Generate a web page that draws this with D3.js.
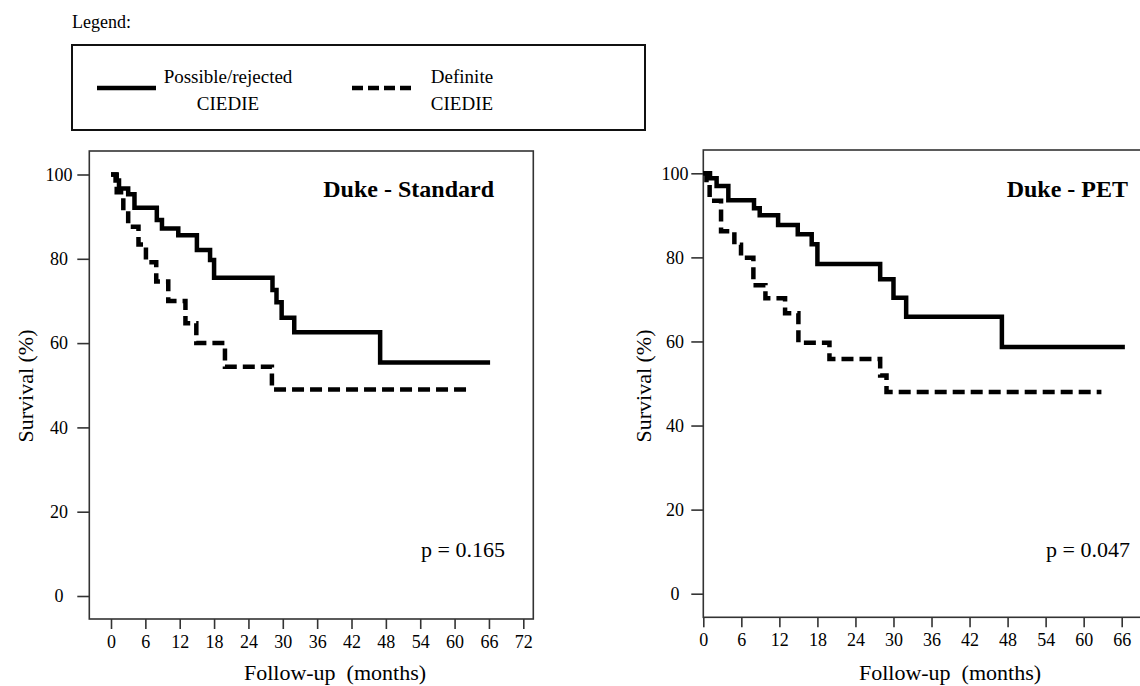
<!DOCTYPE html>
<html>
<head>
<meta charset="utf-8">
<script src="https://cdn.jsdelivr.net/npm/d3@7"></script>
<style>
  body { margin: 0; background: #fff; }
  text { font-family: "Liberation Serif", "Times New Roman", serif; fill: #000; }
</style>
</head>
<body>
<div id="datavis"></div>
<script>
// data (months, survival %)
let stdPossibleTime = [0, 0.8, 1.4, 3.0, 4.1, 8.0, 8.9, 11.75, 15.0, 17.3, 18.0, 28.2, 28.9, 29.8, 32.0, 47.0, 66.2]
let stdPossibleSurv = [100, 98.6, 96.7, 95.3, 92.1, 89.2, 87.2, 85.6, 82.1, 79.7, 75.5, 72.6, 69.7, 66.0, 62.6, 55.4, 55.4]
let stdDefiniteTime = [0, 1.0, 2.15, 3.0, 4.8, 6.1, 7.9, 10.0, 13.0, 14.9, 19.9, 28.1, 63.0]
let stdDefiniteSurv = [100, 95.8, 91.3, 87.6, 83.4, 79.2, 74.6, 70.0, 64.7, 60.0, 54.4, 49.0, 49.0]

let petPossibleTime = [0, 1.06, 2.1, 3.95, 8.0, 8.9, 11.8, 14.9, 17.1, 18.0, 27.9, 30.0, 32.0, 47.1, 66.5]
let petPossibleSurv = [100, 98.8, 97.0, 93.6, 91.7, 90.0, 87.7, 85.5, 83.1, 78.4, 74.8, 70.4, 65.9, 58.7, 58.7]
let petDefiniteTime = [0, 0.5, 1.0, 2.8, 4.9, 5.95, 7.9, 9.8, 12.9, 15.0, 19.9, 27.9, 28.9, 62.8]
let petDefiniteSurv = [100, 97.5, 93.5, 86.2, 83.0, 79.9, 73.4, 70.3, 66.7, 59.7, 55.8, 51.9, 48.0, 48.0]

let yTicks = [0, 20, 40, 60, 80, 100]
let xTicksStd = [0, 6, 12, 18, 24, 30, 36, 42, 48, 54, 60, 66, 72]
let xTicksPet = [0, 6, 12, 18, 24, 30, 36, 42, 48, 54, 60, 66]

let seriesLabels = [["Possible/rejected", "CIEDIE"], ["Definite", "CIEDIE"]]

let width = 1140,
    height = 686

let svg = d3.select('#datavis')
  .append('svg')
    .attr('width', width)
    .attr('height', height)

// legend
svg.append('text')
  .attr('x', 72).attr('y', 28)
  .style('font-size', '18px')
  .text('Legend:')

svg.append('rect')
  .attr('x', 72).attr('y', 45)
  .attr('width', 573).attr('height', 85)
  .attr('fill', 'none')
  .attr('stroke', '#111')
  .attr('stroke-width', 2)

let legendItems = [
  {x1: 97, x2: 156, tx: 228, dash: null, lab: seriesLabels[0]},
  {x1: 352, x2: 411, tx: 462, dash: '11,5', lab: seriesLabels[1]}
]
legendItems.forEach(function(d) {
  svg.append('line')
    .attr('x1', d.x1).attr('x2', d.x2)
    .attr('y1', 88).attr('y2', 88)
    .attr('stroke', '#000')
    .attr('stroke-width', 4.5)
    .attr('stroke-dasharray', d.dash)
  svg.append('text')
    .attr('x', d.tx).attr('y', 83)
    .attr('text-anchor', 'middle')
    .style('font-size', '19px')
    .text(d.lab[0])
  svg.append('text')
    .attr('x', d.tx).attr('y', 110)
    .attr('text-anchor', 'middle')
    .style('font-size', '19px')
    .text(d.lab[1])
})

function drawPanel(p) {
  let x = d3.scaleLinear().domain([0, p.xMax]).range(p.xRange)
  let y = d3.scaleLinear().domain([0, 100]).range(p.yRange)

  let g = svg.append('g')

  // frame
  g.append('rect')
    .attr('x', p.frame[0]).attr('y', p.frame[1])
    .attr('width', p.frame[2] - p.frame[0])
    .attr('height', p.frame[3] - p.frame[1])
    .attr('fill', 'none')
    .attr('stroke', '#333')
    .attr('stroke-width', 1.6)

  // y axis
  let ya = g.append('g')
    .attr('transform', `translate(${p.frame[0]},0)`)
    .call(d3.axisLeft(y).tickValues(yTicks).tickSize(12).tickSizeOuter(0))
  ya.select('.domain').remove()
  ya.selectAll('line').attr('stroke', '#333').attr('stroke-width', 1.6)
  ya.selectAll('text')
    .attr('x', p.yLabelX - p.frame[0])
    .attr('text-anchor', 'middle')
    .style('font-family', '"Liberation Serif", serif')
    .style('font-size', '18px')

  // x axis
  let xa = g.append('g')
    .attr('transform', `translate(0,${p.frame[3]})`)
    .call(d3.axisBottom(x).tickValues(p.xTicks).tickSize(10).tickPadding(6).tickSizeOuter(0))
  xa.select('.domain').remove()
  xa.selectAll('line').attr('stroke', '#333').attr('stroke-width', 1.6)
  xa.selectAll('text')
    .style('font-family', '"Liberation Serif", serif')
    .style('font-size', '18px')

  // axis titles
  g.append('text')
    .attr('transform', `translate(${p.yTitleX},386) rotate(-90)`)
    .attr('text-anchor', 'middle')
    .attr('dy', '0.35em')
    .style('font-size', '22px')
    .text('Survival (%)')

  g.append('text')
    .attr('x', p.xTitleX).attr('y', 680)
    .attr('text-anchor', 'middle')
    .style('font-size', '22px')
    .style('white-space', 'pre')
    .text('Follow-up  (months)')

  g.append('text')
    .attr('x', p.titleEnd).attr('y', 197)
    .attr('text-anchor', 'end')
    .style('font-size', '24px')
    .style('font-weight', 'bold')
    .text(p.title)

  g.append('text')
    .attr('x', p.pEnd).attr('y', 557)
    .attr('text-anchor', 'end')
    .style('font-size', '22px')
    .text(p.pText)

  // Kaplan-Meier step curves
  let line = d3.line()
    .x(function(d) { return x(d[0]) })
    .y(function(d) { return y(d[1]) })
    .curve(d3.curveStepAfter)

  p.series.forEach(function(s) {
    g.append('path')
      .datum(d3.zip(s.t, s.s))
      .attr('d', line)
      .attr('fill', 'none')
      .attr('stroke', '#000')
      .attr('stroke-width', 4.5)
      .attr('stroke-dasharray', s.dash)
  })
}

drawPanel({
  xMax: 72, xRange: [111, 523.3], yRange: [596, 174.5],
  frame: [89.3, 151, 533.3, 619],
  xTicks: xTicksStd, yLabelX: 59,
  yTitleX: 25, xTitleX: 335,
  title: 'Duke - Standard', titleEnd: 494,
  pText: 'p = 0.165', pEnd: 505,
  series: [
    {t: stdPossibleTime, s: stdPossibleSurv, dash: null},
    {t: stdDefiniteTime, s: stdDefiniteSurv, dash: '12,6'}
  ]
})

drawPanel({
  xMax: 66, xRange: [703.3, 1121.7], yRange: [593.7, 173.3],
  frame: [703.3, 150, 1150, 617.3],
  xTicks: xTicksPet, yLabelX: 675,
  yTitleX: 643, xTitleX: 950,
  title: 'Duke - PET', titleEnd: 1128,
  pText: 'p = 0.047', pEnd: 1130,
  series: [
    {t: petPossibleTime, s: petPossibleSurv, dash: null},
    {t: petDefiniteTime, s: petDefiniteSurv, dash: '12,6'}
  ]
})
</script>
</body>
</html>
